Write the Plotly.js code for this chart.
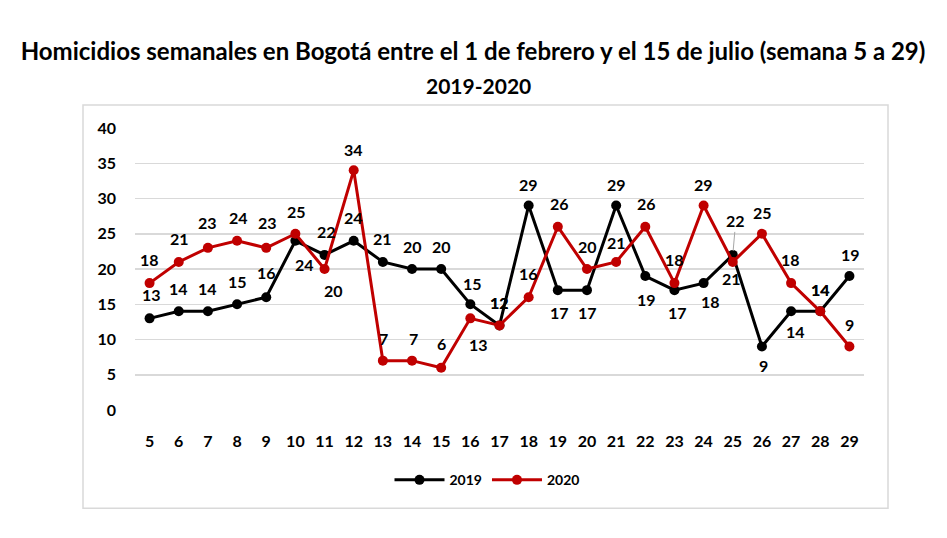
<!DOCTYPE html>
<html>
<head>
<meta charset="utf-8">
<script src="https://cdn.plot.ly/plotly-3.0.1.min.js"></script>
<style>html,body{margin:0;padding:0;background:#fff;}#chart{width:947px;height:538px;}</style>
</head>
<body>
<div id="chart"></div>
<script>
// ---- data ----
const weeks = ["5","6","7","8","9","10","11","12","13","14","15","16","17","18","19","20","21","22","23","24","25","26","27","28","29"];
const homicidios2019 = [13,14,14,15,16,24,22,24,21,20,20,15,12,29,17,17,29,19,17,18,22,9,14,14,19];
const homicidios2020 = [18,21,23,24,23,25,20,34,7,7,6,13,12,16,26,20,21,26,18,29,21,25,18,14,9];
const seriesNames = ["2019","2020"];
const titleLine1 = "Homicidios semanales en Bogotá entre el 1 de febrero y el 15 de julio (semana 5 a 29)";
const titleLine2 = "2019-2020";

// ---- label offsets (style, pixels) ----
const off2019 = [[2,-24],[0,-23],[0,-23],[0,-23],[0,-25],[9,24],[2,-23],[0,-23],[0,-23],[0,-23],[0,-23],[2,-21],[0,-23],[0,-21],[2,22],[1,22],[0,-21],[1,23],[3,22],[7,18],[3,-34],[2,19],[4,20],[0,-22],[1,-22]];
const off2020 = [[0,-24],[1,-23],[0,-25],[1,-23],[1,-25],[1,-22],[9,21],[0,-21],[1,-22],[1,-22],[0,-24],[8,26],[0,-23],[0,-24],[2,-23],[1,-23],[0,-19],[1,-23],[0,-24],[0,-21],[-1,17],[1,-21],[-1,-24],[0,-22],[0,-22]];

const RED = "#C00000";
const BLACK = "#000000";
const FONT = "Lato, 'Open Sans', sans-serif";

const traces = [
  {x: weeks, y: homicidios2019, name: seriesNames[0], type: "scatter", mode: "lines+markers",
   line: {color: BLACK, width: 3}, marker: {color: BLACK, size: 10}, hoverinfo: "skip"},
  {x: weeks, y: homicidios2020, name: seriesNames[1], type: "scatter", mode: "lines+markers",
   line: {color: RED, width: 3}, marker: {color: RED, size: 10}, hoverinfo: "skip"}
];

const annotations = [];
function addLabels(vals, offs) {
  vals.forEach((v, i) => {
    const o = offs[i];
    annotations.push({x: i, y: v, xref: "x", yref: "y", text: String(v),
      font: {family: FONT, size: 16, color: "#000", weight: 700},
      xshift: o[0], yshift: -o[1], showarrow: false});
  });
}
addLabels(homicidios2019, off2019);
addLabels(homicidios2020, off2020);
// leader line for week 25 (2019)
const li = weeks.indexOf("25");
Object.assign(annotations[li], {showarrow: true, xshift: 0, yshift: 0, ax: 3, ay: -34,
  arrowhead: 0, arrowwidth: 1, arrowcolor: "#a6a6a6", standoff: 4});

annotations.push({xref: "paper", yref: "paper", x: (478 - 135) / 729, y: (410 - 87) / 281,
  text: "<b>" + titleLine2 + "</b>", showarrow: false, xanchor: "center", yanchor: "middle",
  font: {family: FONT, size: 21, color: "#000"}});

const layout = {
  width: 947, height: 538,
  margin: {l: 135, r: 83, t: 128, b: 128},
  paper_bgcolor: "#fff", plot_bgcolor: "#fff",
  title: {text: "<b>" + titleLine1 + "</b>", font: {family: FONT, size: 24, color: "#000"},
          x: 473 / 947, xref: "container", xanchor: "center", y: 1 - 52 / 538, yanchor: "middle", yref: "container"},
  xaxis: {type: "category", range: [-0.5, 24.5], showgrid: false, zeroline: false, showline: false,
          ticks: "", tickfont: {family: FONT, size: 16, color: "#000", weight: 700}, ticklabelstandoff: 20, fixedrange: true},
  yaxis: {range: [0, 40], tickvals: [0,5,10,15,20,25,30,35,40], showgrid: true, gridcolor: "#d9d9d9", gridwidth: 1.5,
          zeroline: false, showline: false, ticks: "", ticklabelstandoff: 18,
          tickfont: {family: FONT, size: 16, color: "#000", weight: 700}, fixedrange: true},
  showlegend: true,
  legend: {orientation: "h", x: (487 - 135) / 729, xanchor: "center", y: -(480 - 410) / 281, yanchor: "middle",
           font: {family: FONT, size: 14, color: "#000", weight: 700}, itemwidth: 50, tracegroupgap: 0},
  annotations: annotations,
  shapes: [{type: "rect", xref: "paper", yref: "paper",
            x0: (83 - 135) / 729, x1: (888 - 135) / 729, y0: (410 - 508) / 281, y1: (410 - 106) / 281,
            line: {color: "#d9d9d9", width: 1.5}, fillcolor: "rgba(0,0,0,0)", layer: "below"}]
};

Plotly.newPlot("chart", traces, layout, {displayModeBar: false, staticPlot: true});
</script>
</body>
</html>
